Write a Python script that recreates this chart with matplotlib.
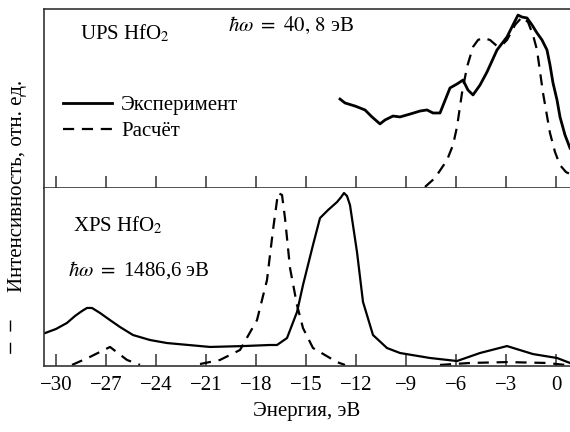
import numpy as np
import matplotlib
matplotlib.use("Agg")
import matplotlib.pyplot as plt
from matplotlib.lines import Line2D

plt.rcParams['font.family'] = ['Liberation Serif', 'DejaVu Serif']
plt.rcParams['mathtext.fontset'] = 'stix'
plt.rcParams['font.size'] = 15

W, H = 570, 432

# UPS, hw = 40.8 eV
ups_exp_e = [-12.96, -12.66, -12.06, -11.46, -11.04, -10.56, -10.26, -9.78, -9.36, -8.76,
             -8.16, -7.74, -7.38, -6.96, -6.36, -5.94,
             -5.58, -5.28, -4.98, -4.56, -4.14, -3.54, -2.94, -2.58, -2.28, -2.04,
             -1.74, -1.44, -1.14, -0.84, -0.54, -0.36, -0.18, 0.06, 0.24, 0.54, 0.84]
ups_exp_i = [0.497, 0.475, 0.458, 0.436, 0.397, 0.358, 0.380, 0.402, 0.397, 0.413,
             0.430, 0.436, 0.419, 0.419, 0.559, 0.581,
             0.603, 0.547, 0.520, 0.575, 0.648, 0.771, 0.844, 0.911, 0.966, 0.955,
             0.950, 0.911, 0.866, 0.827, 0.771, 0.687, 0.587, 0.492, 0.397, 0.296, 0.223]
ups_calc_e = [-7.86, -7.26, -6.54, -6.18, -5.94, -5.64, -5.34, -4.98, -4.68, -4.38,
              -3.96, -3.54, -3.18, -2.94, -2.46, -2.04, -1.68, -1.38, -1.14, -0.78,
              -0.36, -0.06, 0.24, 0.60, 0.84]
ups_calc_i = [0.006, 0.056, 0.156, 0.240, 0.341, 0.531, 0.676, 0.788, 0.827, 0.838,
              0.827, 0.793, 0.804, 0.827, 0.911, 0.955, 0.927, 0.855, 0.771, 0.531,
              0.307, 0.201, 0.128, 0.089, 0.078]

# XPS, hw = 1486.6 eV
xps_exp_e = [-30.66, -30.0, -29.34, -28.86, -28.44, -28.14, -27.84, -27.36, -26.76, -26.16,
             -25.38, -24.36, -23.34, -20.76, -18.78,
             -17.16, -16.74, -16.14, -15.54, -15.18, -14.58, -14.16, -13.68, -13.14, -12.9,
             -12.72, -12.54, -12.36, -11.94, -11.58, -10.98, -10.14, -9.36, -7.56, -5.94,
             -4.56, -2.94, -1.38, 0.06, 0.84]
xps_exp_i = [0.185, 0.208, 0.242, 0.281, 0.309, 0.326, 0.326, 0.298, 0.258, 0.219,
             0.174, 0.146, 0.129, 0.107, 0.112,
             0.118, 0.118, 0.157, 0.303, 0.455, 0.680, 0.831, 0.876, 0.921, 0.948,
             0.972, 0.955, 0.904, 0.640, 0.360, 0.174, 0.101, 0.073, 0.045, 0.028,
             0.073, 0.112, 0.067, 0.045, 0.017]
xps_calc_e = [-29.04, -27.96, -26.76, -25.74, -24.96, np.nan,
              -21.36, -20.16, -18.96, -17.94, -17.34, -16.98, -16.68, -16.44, -16.26, -15.96,
              -15.54, -15.18, -14.58, -13.14, -12.66, np.nan,
              -6.96, -5.16, -2.94, -0.54, 0.54]
xps_calc_i = [0.006, 0.051, 0.107, 0.034, 0.006, np.nan,
              0.011, 0.034, 0.090, 0.258, 0.483, 0.764, 0.972, 0.961, 0.831, 0.551,
              0.343, 0.213, 0.101, 0.022, 0.006, np.nan,
              0.006, 0.017, 0.022, 0.017, 0.006]

xticks = np.arange(-30, 1, 3)

fig = plt.figure(figsize=(W / 100, H / 100), dpi=100)
ax1 = fig.add_axes([44/W, 1 - 188/H, 1 - 44/W, 179/H])
ax2 = fig.add_axes([44/W, 1 - 366/H, 1 - 44/W, 178/H])


def put(px, py, s, **kw):
    # place text by pixel position measured from the top-left corner
    fig.text(px / W, 1 - py / H, s, **kw)


dash = (5, 3.5)
for ax in (ax1, ax2):
    ax.set_xlim(-30.72, 0.84)
    ax.set_ylim(0, 1)
    ax.set_yticks([])
    ax.set_xticks(xticks)
    ax.tick_params(axis='x', direction='in', length=9, width=1.1, color='#333333')
    ax.spines['right'].set_visible(False)
    for s in ('left', 'top', 'bottom'):
        ax.spines[s].set_linewidth(1.2)
        ax.spines[s].set_color('#333333')

ax1.tick_params(axis='x', labelbottom=False)
ax2.spines['top'].set_visible(False)
ax2.set_xticklabels([f"{t}" if t == 0 else f"\u2212{abs(t)}" for t in xticks])
ax2.tick_params(axis='x', pad=7)

ax1.plot(ups_exp_e, ups_exp_i, color='black', lw=2.0, label='Эксперимент')
ax1.plot(ups_calc_e, ups_calc_i, color='black', lw=1.6, dashes=dash, label='Расчёт')
ax2.plot(xps_exp_e, xps_exp_i, color='black', lw=1.6)
ax2.plot(xps_calc_e, xps_calc_i, color='black', lw=1.6, dashes=dash)

ax1.legend(loc='upper left', bbox_to_anchor=(0.036, 0.515), frameon=False,
           handlelength=2.35, handletextpad=0.45, labelspacing=0.3, borderpad=0,
           borderaxespad=0, fontsize=15)

put(80, 33, 'UPS HfO$_2$', va='center')
put(228, 25, r'$\hbar\omega\ =\ 40,\,8$ эВ', va='center')
put(73, 225, 'XPS HfO$_2$', va='center')
put(68, 270, r'$\hbar\omega\ =$ 1486,6 эВ', va='center')
put(18, 186, 'Интенсивность, отн. ед.', rotation=90, ha='center', va='center')
ax2.set_xlabel('Энергия, эВ', fontsize=15, labelpad=5)

fig.add_artist(Line2D([10/W, 10/W], [1 - 320/H, 1 - 358/H],
                      color='black', lw=1.0, dashes=(8, 8)))

fig.savefig('out.png', dpi=100)
